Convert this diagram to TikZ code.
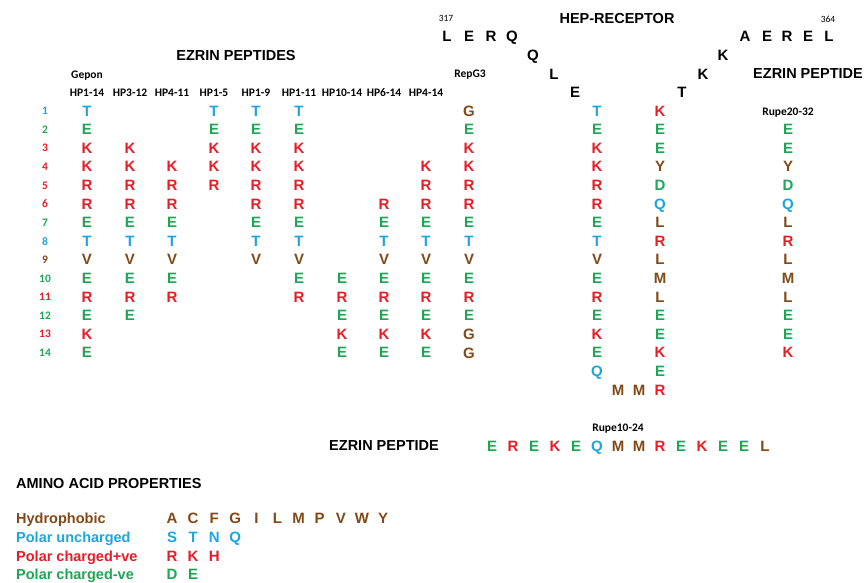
\documentclass[tikz,border=0pt]{standalone}
\usepackage{fontspec}
\setmainfont{Liberation Sans}
\newfontfamily\calibri{Carlito}
\usetikzlibrary{positioning}
\definecolor{HydroBrown}{RGB}{130,72,22}
\definecolor{PolarBlue}{RGB}{28,165,225}
\definecolor{PlusRed}{RGB}{232,28,38}
\definecolor{MinusGreen}{RGB}{30,165,85}
\colorlet{aaA}{HydroBrown}\colorlet{aaC}{HydroBrown}\colorlet{aaF}{HydroBrown}
\colorlet{aaG}{HydroBrown}\colorlet{aaI}{HydroBrown}\colorlet{aaL}{HydroBrown}
\colorlet{aaM}{HydroBrown}\colorlet{aaP}{HydroBrown}\colorlet{aaV}{HydroBrown}
\colorlet{aaW}{HydroBrown}\colorlet{aaY}{HydroBrown}
\colorlet{aaS}{PolarBlue}\colorlet{aaT}{PolarBlue}\colorlet{aaN}{PolarBlue}\colorlet{aaQ}{PolarBlue}
\colorlet{aaR}{PlusRed}\colorlet{aaK}{PlusRed}\colorlet{aaH}{PlusRed}
\colorlet{aaD}{MinusGreen}\colorlet{aaE}{MinusGreen}
\tikzset{
  aa/.style={font=\fontsize{15}{18}\selectfont\bfseries,inner sep=0pt,text depth=0pt},
  hdr/.style={font=\calibri\fontsize{11.5}{13}\selectfont\bfseries,inner sep=0pt,text depth=0pt},
  resno/.style={font=\calibri\fontsize{9.5}{11}\selectfont,inner sep=0pt,text depth=0pt},
  title/.style={font=\fontsize{14.5}{17}\selectfont\bfseries,inner sep=0pt,text depth=0pt},
  legend/.style={title,anchor=west},
}

\begin{document}
\begin{tikzpicture}[x=1pt,y=-1pt]
    \useasboundingbox (0,0) rectangle (864,582);
    \node[title] (ezrins) at (236,55) {EZRIN PEPTIDES};
    \node[title] (hep) at (617,18) {HEP-RECEPTOR};
    \node[title] (ezrinr) at (808,74) {EZRIN PEPTIDE};
    \node[title] (ezrinb) at (384,446) {EZRIN PEPTIDE};
    \node[resno] (n317) at (446,18) {317};
    \node[resno] (n364) at (828,19) {364};
    \node[hdr] (gepon) at (87,75) {Gepon};
    \node[hdr] (repg) at (470,74) {RepG3};
    \node[hdr] (rupea) at (788,112) {Rupe20-32};
    \node[hdr] (rupeb) at (618,428) {Rupe10-24};
    \foreach \k/\c in {1/PolarBlue,2/MinusGreen,3/PlusRed,4/PlusRed,5/PlusRed,6/PlusRed,7/MinusGreen,8/PolarBlue,9/HydroBrown,10/MinusGreen,11/PlusRed,12/MinusGreen,13/PlusRed,14/MinusGreen} {\node[hdr,text=\c] (row\k) at (45,{92.4+18.6*\k}) {\k};}
    \foreach \cx/\first/\lbl/\seq [count=\n] in {87/1/HP1-14/{T,E,K,K,R,R,E,T,V,E,R,E,K,E},130/3/HP3-12/{K,K,R,R,E,T,V,E,R,E},172/4/HP4-11/{K,R,R,E,T,V,E,R},214/1/HP1-5/{T,E,K,K,R},256/1/HP1-9/{T,E,K,K,R,R,E,T,V},299/1/HP1-11/{T,E,K,K,R,R,E,T,V,E,R},342/10/HP10-14/{E,R,E,K,E},384/6/HP6-14/{R,E,T,V,E,R,E,K,E},426/4/HP4-14/{K,R,R,E,T,V,E,R,E,K,E}} {
      \node[hdr] (hp\n) at (\cx,93) {\lbl};
      \foreach \a [count=\k from \first] in \seq {\node[aa,text=aa\a] (p\n-\k) at (\cx,{92.4+18.6*\k}) {\a};}
    }
    \foreach \cx/\first/\id/\seq in {469/1/g/{G,E,K,K,R,R,E,T,V,E,R,E,G,G},597/1/l/{T,E,K,K,R,R,E,T,V,E,R,E,K,E,Q},660/1/r/{K,E,E,Y,D,Q,L,R,L,M,L,E,E,K,E,R},788/2/u/{E,E,Y,D,Q,L,R,L,M,L,E,E,K}} {
      \foreach \a [count=\k from \first] in \seq {\node[aa,text=aa\a] (\id\k) at (\cx,{92.4+18.6*\k}) {\a};}
    }
    \node[aa,text=aaM] (m1) at (618,390) {M};
    \node[aa,text=aaM] (m2) at (639,390) {M};
    \foreach \a/\x/\y [count=\n] in {L/447/36,E/469/36,R/491/36,Q/512/36,Q/533/55,L/554/74,E/575/92,T/682/92,K/703/74,K/723/55,A/745/36,E/767/36,R/787/36,E/808/36,L/829/36} {\node[aa] (hr\n) at (\x,\y) {\a};}
    \foreach \a [count=\n] in {E,R,E,K,E,Q,M,M,R,E,K,E,E,L} {\node[aa,text=aa\a] (b\n) at ({492+21*(\n-1)},446) {\a};}
    \node[legend] (props) at (16,483) {AMINO ACID PROPERTIES};
    \foreach \lbl/\c/\y/\seq [count=\n] in {Hydrophobic/HydroBrown/518/{A,C,F,G,I,L,M,P,V,W,Y},Polar uncharged/PolarBlue/537/{S,T,N,Q},Polar charged+ve/PlusRed/556/{R,K,H},Polar charged-ve/MinusGreen/574/{D,E}} {
      \node[legend,text=\c] (prop\n) at (16,\y) {\lbl};
      \foreach \a [count=\k] in \seq {\node[aa,text=\c] (prop\n-\k) at ({172+21.1*(\k-1)},\y) {\a};}
    }
\end{tikzpicture}
\end{document}
